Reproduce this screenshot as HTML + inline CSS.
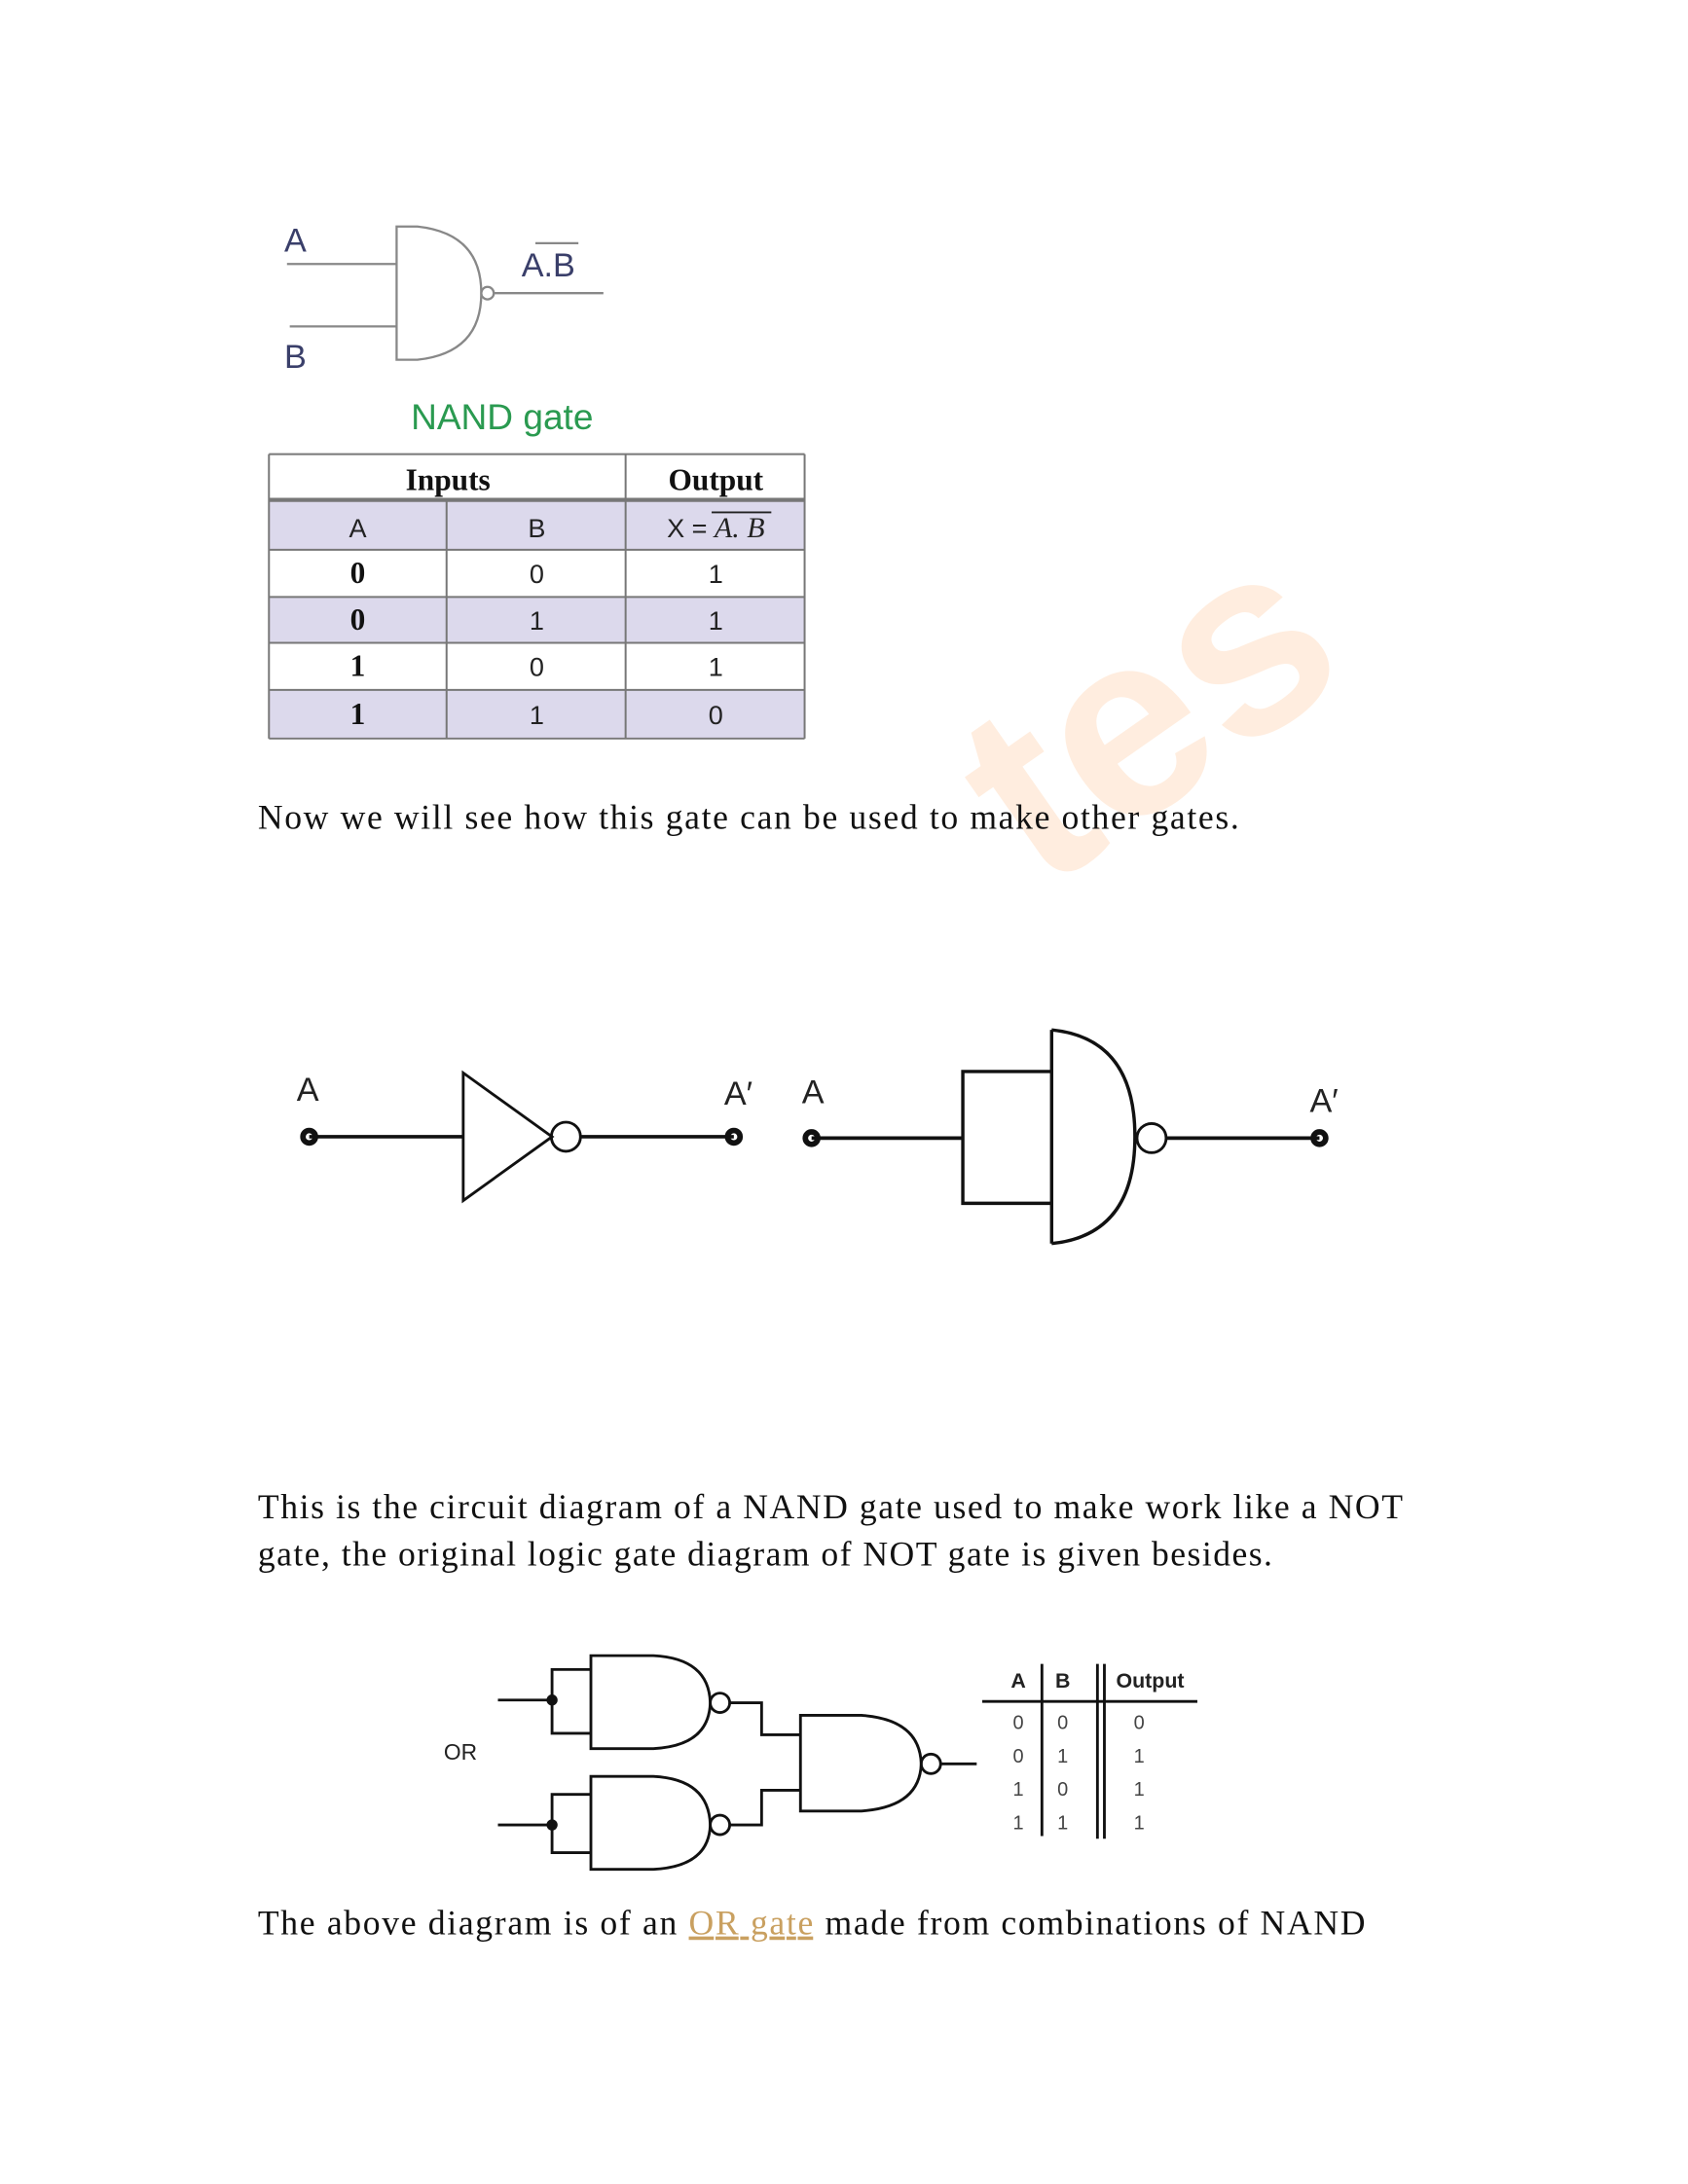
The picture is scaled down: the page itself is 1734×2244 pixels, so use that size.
<!DOCTYPE html>
<html><head><meta charset="utf-8"><style>
html,body{margin:0;padding:0;background:#fff;}
svg{display:block;}
.body{font-family:"Liberation Serif",serif;font-size:25px;fill:#111;}
.sans{font-family:"Liberation Sans",sans-serif;}
</style></head><body>
<svg id="page" width="1734" height="2244" viewBox="0 0 1224 1584" xmlns="http://www.w3.org/2000/svg">
<rect width="1224" height="1584" fill="#fff"/>
<g transform="translate(0.8,3.3) scale(1.0063)">
<text x="690" y="590" transform="rotate(-35 800 520)" font-family="Liberation Sans,sans-serif" font-size="190" font-weight="bold" fill="#ffb070" opacity="0.22">tes</text>

<g id="nand-symbol" stroke="#888" stroke-width="1.6" fill="none">
  <line x1="206" y1="187" x2="285" y2="187"/>
  <line x1="208" y1="232" x2="285" y2="232"/>
  <path d="M285 160 L300 160 Q346 165 346 208 Q346 251 300 256 L285 256 Z"/>
  <circle cx="350.5" cy="208" r="4.5"/>
  <line x1="355" y1="208" x2="434" y2="208"/>
  <line x1="385" y1="172" x2="416" y2="172"/>
</g>
<text x="204" y="178" class="sans" font-size="24" fill="#3a3f6a">A</text>
<text x="204" y="262" class="sans" font-size="24" fill="#3a3f6a">B</text>
<text x="375" y="196" class="sans" font-size="24" fill="#3a3f6a">A.B</text>
<text x="361" y="306" class="sans" font-size="26" fill="#2a9a50" text-anchor="middle">NAND gate</text>

<g id="truth-table"></g>

<text x="185" y="594" class="body" textLength="707">Now we will see how this gate can be used to make other gates.</text>

<g stroke="#111" stroke-width="2.6" fill="none">
  <line x1="222" y1="816" x2="333" y2="816"/>
  <path d="M333 770 L333 862 L397 816 Z" stroke-width="2"/>
  <circle cx="407" cy="816" r="10.5" stroke-width="2"/>
  <line x1="418" y1="816" x2="528" y2="816"/>
  <circle cx="222" cy="816" r="4.5" stroke-width="4"/>
  <circle cx="528" cy="816" r="4.5" stroke-width="4"/>
</g>
<text x="213" y="790" class="sans" font-size="24" fill="#222">A</text>
<text x="521" y="793" class="sans" font-size="24" fill="#222">A′</text>

<g stroke="#111" stroke-width="2.6" fill="none">
  <line x1="584" y1="817" x2="693" y2="817"/>
  <path d="M757 769 L693 769 L693 864 L757 864" stroke-width="2.4"/>
  <path d="M757 739 L757 893 M757 739 Q817 745 817 816 Q817 887 757 893" stroke-width="2.4"/>
  <circle cx="829" cy="817" r="10.5" stroke-width="2"/>
  <line x1="840" y1="817" x2="950" y2="817"/>
  <circle cx="584" cy="817" r="4.5" stroke-width="4"/>
  <circle cx="950" cy="817" r="4.5" stroke-width="4"/>
</g>
<text x="577" y="792" class="sans" font-size="24" fill="#222">A</text>
<text x="943" y="798" class="sans" font-size="24" fill="#222">A′</text>

<text x="185" y="1091" class="body" textLength="825">This is the circuit diagram of a NAND gate used to make work like a NOT</text>
<text x="185" y="1125" class="body" textLength="731">gate, the original logic gate diagram of NOT gate is given besides.</text>

<g stroke="#111" stroke-width="2" fill="none">
  <line x1="358" y1="1222" x2="397" y2="1222"/>
  <path d="M425 1200 L397 1200 L397 1246 L425 1246"/>
  <path d="M425 1190 L470 1190 Q510 1192 511 1224 Q510 1255 470 1257 L425 1257 Z"/>
  <circle cx="518" cy="1224" r="7"/>
  <circle cx="397" cy="1222" r="3" fill="#111"/>
  <line x1="358" y1="1312" x2="397" y2="1312"/>
  <path d="M425 1290 L397 1290 L397 1332 L425 1332"/>
  <path d="M425 1277 L470 1277 Q510 1279 511 1312 Q510 1342 470 1344 L425 1344 Z"/>
  <circle cx="518" cy="1312" r="7"/>
  <circle cx="397" cy="1312" r="3" fill="#111"/>
  <path d="M525 1224 L548 1224 L548 1247 L576 1247"/>
  <path d="M525 1312 L548 1312 L548 1287 L576 1287"/>
  <path d="M576 1233 L620 1233 Q662 1236 663 1268 Q662 1299 620 1302 L576 1302 Z"/>
  <circle cx="670" cy="1268" r="7"/>
  <line x1="677" y1="1268" x2="703" y2="1268"/>
  <line x1="707" y1="1223" x2="862" y2="1223"/>
  <line x1="750" y1="1196" x2="750" y2="1320"/>
  <line x1="790" y1="1196" x2="790" y2="1322"/>
  <line x1="795" y1="1196" x2="795" y2="1322"/>
</g>
<text x="331" y="1265" class="sans" font-size="16" fill="#222" text-anchor="middle">OR</text>
<g id="or-table" class="sans" font-size="15" fill="#222" text-anchor="middle">
  <text x="733" y="1213" font-weight="bold">A</text>
  <text x="765" y="1213" font-weight="bold">B</text>
  <text x="828" y="1213" font-weight="bold">Output</text>
</g>

<text x="185" y="1391" class="body" textLength="798">The above diagram is of an <tspan fill="#c9a060" text-decoration="underline">OR gate</tspan> made from combinations of NAND</text>
</g>
</svg>
<script>
const nandA = ['0','0','1','1'];
const nandB = ['0','1','0','1'];
const nandOut = ['1','1','1','0'];
const orA = ['0','0','1','1'];
const orB = ['0','1','0','1'];
const orOut = ['0','1','1','1'];

const NS = 'http://www.w3.org/2000/svg';
function mk(tag, attrs, parent){
  const e = document.createElementNS(NS, tag);
  for (const k in attrs) e.setAttribute(k, attrs[k]);
  parent.appendChild(e);
  return e;
}
const tt = document.getElementById('truth-table');
const cols = [193, 321, 450, 579];
const rows = [324, 357, 393, 427, 460, 494, 529];
const shade = '#dcd9ec';
[1, 3, 5].forEach(function(i){
  const r = mk('rect', {x:193, y:rows[i], width:386, height:rows[i+1]-rows[i], fill:shade}, tt);
  
  
});
const lineStyle = {stroke:'#777', 'stroke-width':1.4};
rows.forEach(function(y, i){
  const l = mk('line', Object.assign({x1:193, x2:579, y1:y, y2:y}, lineStyle), tt);
  if (i === 1) l.setAttribute('stroke-width', 3);
  
  
});
cols.forEach(function(x, i){
  const y1 = (i === 1) ? rows[1] : rows[0];
  const l = mk('line', Object.assign({x1:x, x2:x, y1:y1, y2:rows[6]}, lineStyle), tt);
  
  
});
function txt(parent, x, y, s, extra){
  const t = mk('text', Object.assign({x:x, y:y, 'text-anchor':'middle'}, extra || {}), parent);
  t.textContent = s;
  return t;
}
const serifB = {'font-family':'Liberation Serif, serif', 'font-weight':'bold', 'font-size':22, fill:'#111'};
const sansN = {'font-family':'Liberation Sans, sans-serif', 'font-size':19, fill:'#222'};
let h = txt(tt, 322, 350, 'Inputs', serifB);


h = txt(tt, 515, 350, 'Output', serifB);


h = txt(tt, 257, 384, 'A', sansN);


h = txt(tt, 386, 384, 'B', sansN);


h = mk('text', {x:515, y:384, 'text-anchor':'middle', 'font-family':'Liberation Sans, sans-serif', 'font-size':19, fill:'#222'}, tt);
h.innerHTML = 'X = <tspan font-family="Liberation Serif, serif" font-style="italic" font-size="21">A. B</tspan>';


const ob = mk('line', {x1:512, x2:555, y1:366, y2:366, stroke:'#222', 'stroke-width':1.3}, tt);


for (let i = 0; i < nandA.length; i++) {
  const cy = (rows[i+2] + rows[i+3]) / 2 + 7;
  let c = txt(tt, 257, cy, nandA[i], serifB);
  
  
  c = txt(tt, 386, cy, nandB[i], sansN);
  
  
  c = txt(tt, 515, cy, nandOut[i], sansN);
  
  
}
const ot = document.getElementById('or-table');
for (let i = 0; i < orA.length; i++) {
  const y = 1243 + i * 24;
  let c = txt(ot, 733, y, orA[i], {'font-size':14, fill:'#444'});
  
  
  c = txt(ot, 765, y, orB[i], {'font-size':14, fill:'#444'});
  
  
  c = txt(ot, 820, y, orOut[i], {'font-size':14, fill:'#444'});
  
  
}
</script>
</body></html>
